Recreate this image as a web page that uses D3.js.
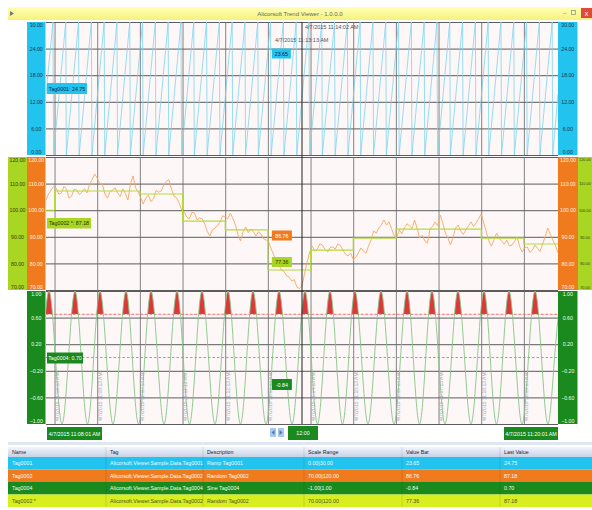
<!DOCTYPE html>
<html>
<head>
<meta charset="utf-8">
<script src="https://cdn.jsdelivr.net/npm/d3@7"></script>
<style>
body { margin: 0; background: #fff; }
svg { display: block; font-family: "Liberation Sans", Arial, sans-serif; }
</style>
</head>
<body>
<svg id="chart" width="592" height="510"></svg>
<script>
// time window of the trend (12 minutes)
const startTime = new Date(2015, 3, 7, 11, 8, 1);
const endTime = new Date(2015, 3, 7, 11, 20, 1);
const cursorSecond = 312;
const gridSeconds = [12, 72, 132, 192, 252, 312, 372, 432, 492, 552, 612, 672];

// Tag0001 - ramp 0..30, seconds at which it resets
const rampTicks = [0, 6, 12, 18, 24, 30];
const rampResets = [9.8, 27.8, 45.8, 63.8, 81.8, 99.8, 117.8, 135.8, 153.8, 171.8,
  189.8, 207.8, 225.8, 243.8, 261.8, 279.8, 297.8, 315.8, 333.8, 351.8,
  369.8, 387.8, 405.8, 423.8, 441.8, 459.8, 477.8, 495.8, 513.8, 531.8,
  549.8, 567.8, 585.8, 603.8, 621.8, 639.8, 657.8, 675.8, 693.8, 711.8];
const rampEnds = [13.7, 13.7];

// Tag0002 - random, one sample every 3.6 s
const randomTicks = [70, 80, 90, 100, 110, 120];
const randomStep = 3.6;
const randomValues = [
  103.8, 106.2, 107.6, 109.0, 108.3, 106.0, 106.5, 108.9, 108.0, 104.6,
  105.3, 107.9, 107.6, 105.9, 106.8, 108.1, 106.5, 109.6, 111.4, 113.6,
  112.1, 110.0, 109.8, 106.1, 104.6, 106.9, 107.6, 108.4, 106.5, 105.2,
  108.0, 106.3, 103.8, 109.9, 112.9, 108.4, 106.8, 104.7, 102.3, 104.6,
  105.7, 103.3, 104.2, 107.4, 106.8, 107.2, 109.5, 110.9, 111.4, 108.0,
  105.3, 104.6, 102.7, 100.1, 99.3, 97.4, 96.7, 99.2, 98.9, 96.4,
  97.1, 96.8, 94.8, 92.0, 90.3, 92.6, 93.3, 94.1, 95.6, 97.9,
  97.4, 96.8, 98.9, 96.9, 94.4, 90.8, 88.4, 91.9, 93.7, 91.6,
  92.9, 92.0, 90.3, 91.9, 91.0, 89.2, 88.8, 88.0, 85.4, 83.1,
  79.8, 79.1, 77.5, 76.9, 75.3, 74.8, 73.4, 73.9, 71.1, 70.5,
  71.5, 76.2, 80.5, 84.3, 86.5, 84.6, 85.4, 87.4, 86.9, 85.2,
  84.3, 86.0, 86.2, 85.4, 87.3, 86.8, 85.0, 83.4, 82.8, 83.9,
  81.6, 82.2, 83.9, 85.8, 84.6, 83.8, 86.5, 88.9, 92.2, 91.4,
  93.3, 94.5, 96.3, 94.4, 95.6, 93.0, 90.3, 89.6, 92.6, 91.1,
  93.3, 94.9, 94.1, 93.2, 96.3, 93.0, 89.5, 90.6, 88.4, 87.6,
  92.9, 93.8, 95.6, 94.2, 98.2, 95.1, 91.4, 89.6, 86.9, 89.8,
  93.3, 94.4, 92.2, 90.9, 92.6, 94.1, 95.6, 93.9, 95.2, 96.8,
  98.6, 95.2, 91.8, 88.4, 86.5, 88.9, 91.4, 89.5, 88.4, 87.2,
  88.8, 86.6, 86.9, 88.2, 89.9, 86.4, 84.3, 85.9, 86.2, 84.1,
  85.0, 86.9, 85.7, 84.5, 87.3, 90.1, 93.3, 91.0, 88.8, 86.7, 83.9];

// Tag0002 * - per-minute average, steps
const stepEdges = [0, 12, 72, 132, 192, 252, 312, 372, 432, 492, 552, 612, 672, 720];
const stepValues = [100.0, 107.2, 107.2, 106.1, 95.9, 92.6, 77.5, 85.0, 89.5, 92.9, 92.9, 89.5, 87.3];

// Tag0004 - sine -1..1, seconds of the peaks
const sineTicks = [-1, -0.6, -0.2, 0.2, 0.6, 1];
const sinePeaks = [-32.4, 4.2, 40.8, 75.9, 112.5, 147.7, 184.2, 219.4, 255.9, 291.1, 327.7,
  364.2, 399.4, 434.5, 471.1, 507.7, 542.8, 579.4, 615.9, 651.1, 687.7, 724.3];
const sineAlarms = [0.65, 0];

// legend table
const tableHeads = ["Name", "Tag", "Description", "Scale Range", "Value Bar", "Last Value"];
const tagNames = ["Tag0001", "Tag0002", "Tag0004", "Tag0002 *"];
const tagPaths = ["Alicorsoft.Viewer.Sample.Data.Tag0001", "Alicorsoft.Viewer.Sample.Data.Tag0002",
  "Alicorsoft.Viewer.Sample.Data.Tag0004", "Alicorsoft.Viewer.Sample.Data.Tag0002"];
const tagDescriptions = ["Ramp Tag0001", "Random Tag0002", "Sine Tag0004", "Random Tag0002"];
const scaleRanges = ["0.00|30.00", "70.00|120.00", "-1.00|1.00", "70.00|120.00"];
const valueBars = ["23.65", "86.76", "-0.84", "77.36"];
const lastValues = ["24.75", "87.18", "0.70", "87.18"];

const cyan = "#22c3ee", orange = "#f07a1e", green = "#1b8a1e", lime = "#a9d523", yellow = "#d8ee1f";

const svg = d3.select("#chart");
const sec = s => new Date(startTime.getTime() + s * 1000);
const fmt = d3.timeFormat("%-m/%-d/%Y %-I:%M:%S %p");
const x = d3.scaleTime().domain([startTime, endTime]).range([46, 558]);
const plotW = 512;

// ---- title bar
const defs = svg.append("defs");
const tg = defs.append("linearGradient").attr("id", "titleGrad").attr("x2", 0).attr("y2", 1);
tg.append("stop").attr("offset", 0).attr("stop-color", "#ffffb8");
tg.append("stop").attr("offset", 1).attr("stop-color", "#f6f27a");
svg.append("rect").attr("x", 8).attr("y", 7).attr("width", 584).attr("height", 13).attr("fill", "url(#titleGrad)");
svg.append("path").attr("d", "M10,11 L14,13.5 L10,16 Z").attr("fill", "#777");
svg.append("text").attr("x", 300).attr("y", 16).attr("text-anchor", "middle")
  .attr("font-size", 6).attr("fill", "#666").text("Alicorsoft Trend Viewer - 1.0.0.0");
svg.append("text").attr("x", 563).attr("y", 15).attr("font-size", 6).attr("fill", "#777").text("–");
svg.append("rect").attr("x", 571.5).attr("y", 10.5).attr("width", 4).attr("height", 4).attr("fill", "none").attr("stroke", "#888").attr("stroke-width", 0.7);
svg.append("rect").attr("x", 581).attr("y", 8).attr("width", 11).attr("height", 10).attr("fill", "#e04a3a");
svg.append("text").attr("x", 586.5).attr("y", 15.5).attr("text-anchor", "middle").attr("font-size", 7).attr("fill", "#fff").text("x");

// ---- panels
const panels = [
  { top: 22, bottom: 155, domain: [0, 30], ticks: rampTicks,
    bands: [{ x: 27, w: 18.5, color: cyan, text: "#234" }, { x: 558, w: 19.5, color: cyan, text: "#234" }] },
  { top: 157, bottom: 290, domain: [70, 120], ticks: randomTicks,
    bands: [{ x: 8, w: 19, color: lime, text: "#354010" }, { x: 27, w: 18.5, color: orange, text: "#fff4e8" },
      { x: 558, w: 20, color: orange, text: "#fff4e8" }, { x: 578, w: 14, color: lime, text: "#354010", small: true }] },
  { top: 291, bottom: 424, domain: [-1, 1], ticks: sineTicks,
    bands: [{ x: 27, w: 18.5, color: green, text: "#e8ffe8" }, { x: 558, w: 19.5, color: green, text: "#e8ffe8" }] }
];

panels.forEach((p, i) => {
  p.y = d3.scaleLinear().domain(p.domain).range([p.bottom, p.top]);
  defs.append("clipPath").attr("id", "clip" + i).append("rect")
    .attr("x", 46).attr("y", p.top).attr("width", plotW).attr("height", p.bottom - p.top);

  svg.append("rect").attr("x", 46).attr("y", p.top).attr("width", plotW)
    .attr("height", p.bottom - p.top).attr("fill", "#fdf7f7");

  // scale bands with labels
  p.bands.forEach(b => {
    svg.append("rect").attr("x", b.x).attr("y", p.top).attr("width", b.w)
      .attr("height", p.bottom - p.top).attr("fill", b.color);
    const ax = svg.append("g").attr("transform", `translate(${b.x + b.w / 2},0)`)
      .call(d3.axisLeft(p.y).tickValues(p.ticks).tickSize(0).tickPadding(0).tickFormat(d3.format(".2f")));
    ax.select(".domain").remove();
    ax.selectAll("text").attr("text-anchor", "middle").attr("fill", b.text)
      .attr("font-size", b.small ? 3.9 : 5.2).attr("font-family", "Liberation Sans, Arial, sans-serif")
      .attr("dy", d => d === p.domain[1] ? "0.95em" : (d === p.domain[0] ? "-0.3em" : "0.32em"));
  });

  // grid
  const gy = svg.append("g").attr("transform", "translate(46,0)")
    .call(d3.axisLeft(p.y).tickValues(p.ticks).tickSize(-plotW).tickFormat(""));
  gy.select(".domain").remove();
  gy.selectAll("line").attr("stroke", "#4a4a4a").attr("stroke-width", 0.9);
  const gx = svg.append("g").attr("transform", `translate(0,${p.bottom})`)
    .call(d3.axisBottom(x).tickValues(gridSeconds.map(sec)).tickSize(-(p.bottom - p.top)).tickFormat(""));
  gx.select(".domain").remove();
  gx.selectAll("line").attr("stroke", "#666").attr("stroke-width", 0.8);
});

const [pRamp, pRand, pSine] = panels;

// ---- Tag0001 ramp
const rampPts = [[0, rampEnds[0]]];
rampResets.forEach(r => { rampPts.push([r, 30], [r + 0.8, 0]); });
rampPts.push([720, rampEnds[1]]);
svg.append("path").datum(rampPts).attr("clip-path", "url(#clip0)")
  .attr("fill", "none").attr("stroke", "#7dd4ef").attr("stroke-width", 0.8)
  .attr("d", d3.line().x(d => x(sec(d[0]))).y(d => pRamp.y(d[1])));

// ---- Tag0002 random + step average
svg.append("path").datum(randomValues).attr("clip-path", "url(#clip1)")
  .attr("fill", "none").attr("stroke", "#f5a862").attr("stroke-width", 0.9)
  .attr("d", d3.line().x((d, i) => x(sec(i * randomStep))).y(d => pRand.y(d)));
const stepPts = stepValues.map((v, i) => [stepEdges[i], v]);
stepPts.push([720, stepValues[stepValues.length - 1]]);
svg.append("path").datum(stepPts).attr("clip-path", "url(#clip1)")
  .attr("fill", "none").attr("stroke", "#b4dc3a").attr("stroke-width", 1.1)
  .attr("d", d3.line().x(d => x(sec(d[0]))).y(d => pRand.y(d[1])).curve(d3.curveStepAfter));

// ---- Tag0004 sine with alarm fill
const sinePts = [];
sinePeaks.forEach((p, i) => {
  sinePts.push([p, 1]);
  if (i < sinePeaks.length - 1) {
    const q = (sinePeaks[i + 1] - p) / 4;
    sinePts.push([p + q, 0], [p + 2 * q, -1], [p + 3 * q, 0]);
  }
});
defs.append("clipPath").attr("id", "alarmClip").append("rect")
  .attr("x", 46).attr("y", pSine.top).attr("width", plotW).attr("height", pSine.y(sineAlarms[0]) - pSine.top);
svg.append("g").attr("clip-path", "url(#clip2)").append("path").datum(sinePts)
  .attr("clip-path", "url(#alarmClip)").attr("fill", "#dc3838")
  .attr("d", d3.area().x(d => x(sec(d[0]))).y0(pSine.y(sineAlarms[0])).y1(d => pSine.y(d[1])).curve(d3.curveNatural));
sineAlarms.forEach(a => {
  svg.append("line").attr("x1", 46).attr("x2", 558).attr("y1", pSine.y(a)).attr("y2", pSine.y(a))
    .attr("stroke", "#ee6a6a").attr("stroke-width", 0.9).attr("stroke-dasharray", "2.5,2");
});
svg.append("path").datum(sinePts).attr("clip-path", "url(#clip2)")
  .attr("fill", "none").attr("stroke", "#86c486").attr("stroke-width", 0.9)
  .attr("d", d3.line().x(d => x(sec(d[0]))).y(d => pSine.y(d[1])).curve(d3.curveNatural));

// vertical time labels in the sine panel
svg.append("g").selectAll("text").data(gridSeconds).join("text")
  .attr("transform", d => `translate(${x(sec(d)) + 4.5},${pSine.bottom - 3}) rotate(-90)`)
  .attr("font-size", 5).attr("fill", "#a4a8b4").text(d => fmt(sec(d)));

// ---- centre line
svg.append("line").attr("x1", 302).attr("x2", 302).attr("y1", 22).attr("y2", 424)
  .attr("stroke", "#222").attr("stroke-width", 1);

// ---- cursor texts and value boxes
svg.append("text").attr("x", 305).attr("y", 29).attr("font-size", 5.5).attr("fill", "#555").text(fmt(sec(361)));
svg.append("text").attr("x", 275).attr("y", 42).attr("font-size", 5.5).attr("fill", "#555").text(fmt(sec(cursorSecond)));

function box(bx, by, w, h, fill, textColor, label) {
  svg.append("rect").attr("x", bx).attr("y", by).attr("width", w).attr("height", h).attr("fill", fill);
  svg.append("text").attr("x", bx + w / 2).attr("y", by + h / 2 + 2).attr("text-anchor", "middle")
    .attr("font-size", 5.3).attr("fill", textColor).text(label);
}
const cx = x(sec(cursorSecond)) + 4;
box(cx, 48.5, 19, 10, cyan, "#124", valueBars[0]);
box(cx, 230.5, 20, 10, orange, "#fff", valueBars[1]);
box(cx, 257, 20, 10, lime, "#243008", valueBars[3]);
box(cx, 379, 20, 11, green, "#fff", valueBars[2]);

box(47, 83, 40, 11, cyan, "#124", tagNames[0] + ": " + lastValues[0]);
box(47, 218, 44, 10.5, lime, "#243008", tagNames[3] + ": " + lastValues[3]);
box(47, 352.5, 36, 11, green, "#fff", tagNames[2] + ": " + lastValues[2]);

// bottom time boxes
box(47, 427, 55, 13, green, "#fff", fmt(startTime));
box(288, 426, 30, 14, green, "#fff", "12:00");
box(504, 427, 54, 13, green, "#fff", fmt(endTime));
svg.append("rect").attr("x", 270).attr("y", 428).attr("width", 6).attr("height", 9).attr("fill", "#a9c8f0");
svg.append("rect").attr("x", 278).attr("y", 428).attr("width", 6).attr("height", 9).attr("fill", "#a9c8f0");
svg.append("path").attr("d", "M274.5,430 L271.5,432.5 L274.5,435 Z M279.5,430 L282.5,432.5 L279.5,435 Z").attr("fill", "#4a78c0");

// ---- legend table
svg.append("rect").attr("x", 8).attr("y", 442).attr("width", 584).attr("height", 3).attr("fill", "#dfe7f2");
const hg = defs.append("linearGradient").attr("id", "headGrad").attr("x2", 0).attr("y2", 1);
hg.append("stop").attr("offset", 0).attr("stop-color", "#f2f5fb");
hg.append("stop").attr("offset", 1).attr("stop-color", "#c5d2e6");
const colX = [8, 106, 203, 304, 402, 500];
svg.append("rect").attr("x", 8).attr("y", 447).attr("width", 584).attr("height", 10).attr("fill", "url(#headGrad)");
svg.selectAll(".head").data(tableHeads).join("text").attr("class", "head")
  .attr("x", (d, i) => colX[i] + 4).attr("y", 454).attr("font-size", 5.3).attr("fill", "#223").text(d => d);

const rowFill = [cyan, orange, green, yellow];
const rowText = ["#eefaff", "#fff", "#f0fff0", "#4a5520"];
const rowY = [457, 469.5, 482, 494.5];
tagNames.forEach((name, r) => {
  svg.append("rect").attr("x", 8).attr("y", rowY[r]).attr("width", 584).attr("height", 12.5).attr("fill", rowFill[r]);
  const cells = [name, tagPaths[r], tagDescriptions[r], scaleRanges[r], valueBars[r], lastValues[r]];
  cells.forEach((c, i) => {
    svg.append("text").attr("x", colX[i] + 4).attr("y", rowY[r] + 8.2).attr("font-size", 5.3)
      .attr("fill", rowText[r]).text(c);
  });
});
svg.selectAll(".colsep").data(colX.slice(1)).join("line").attr("class", "colsep")
  .attr("x1", d => d).attr("x2", d => d).attr("y1", 447).attr("y2", 507)
  .attr("stroke", "#000").attr("stroke-opacity", 0.12).attr("stroke-width", 0.8);
</script>
</body>
</html>
